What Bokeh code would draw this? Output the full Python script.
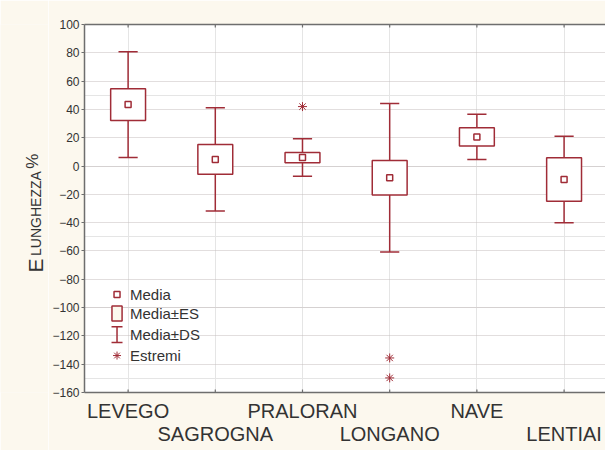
import numpy as np
from bokeh.plotting import figure
from bokeh.layouts import row
from bokeh.models import (ColumnDataSource, FixedTicker, LinearAxis, Label, Range1d, Grid)
from bokeh.core.properties import value
from bokeh.embed import file_html
from bokeh.resources import INLINE

# ---- data ----
categories = ["LEVEGO", "SAGROGNA", "PRALORAN", "LONGANO", "NAVE", "LENTIAI"]
mean = [43.4, 4.7, 6.0, -8.3, 20.6, -9.5]
se = [11.2, 10.5, 3.6, 12.2, 6.4, 15.4]
sd = [37.3, 36.5, 13.2, 52.5, 16.0, 30.6]
extreme_group = ["PRALORAN", "LONGANO", "LONGANO"]
extreme_value = [42.0, -135.6, -149.7]
y_ticks = list(range(-160, 101, 20))
legend_labels = ["Media", "Media\u00b1ES", "Media\u00b1DS", "Estremi"]
ytitle_parts = ["E", "LUNGHEZZA", "%"]

# ---- styles ----
RED = "#a02c37"
AXIS = "#6e6e6e"
TEXT = "#333333"
CREAM = "#fcf8ee"
FONT = "Liberation Sans"
BOX_HALF = 0.2
CAP_HALF = 0.11
Y_MIN, Y_MAX = -160, 100
TICK_LEN = 2.1  # data units (~3 px)

x = np.arange(len(categories), dtype=float)
m = np.array(mean)
s_e = np.array(se)
s_d = np.array(sd)

src = ColumnDataSource(dict(
    x=x, mean=m,
    box_l=x - BOX_HALF, box_r=x + BOX_HALF,
    box_b=m - s_e, box_t=m + s_e,
    lo=m - s_d, hi=m + s_d,
    cap_l=x - CAP_HALF, cap_r=x + CAP_HALF,
))
ex_src = ColumnDataSource(dict(
    x=[categories.index(g) for g in extreme_group],
    y=extreme_value,
))

W_TITLE, W_MAIN, H = 48, 557, 450
B_TOP, B_BOTTOM = 24, 58

p = figure(width=W_MAIN, height=H, output_backend="svg", toolbar_location=None,
           x_range=Range1d(-0.5, 5.475), y_range=Range1d(Y_MIN, Y_MAX),
           x_axis_location=None, y_axis_location=None,
           min_border_left=36, min_border_top=B_TOP, min_border_bottom=B_BOTTOM,
           min_border_right=0)
p.background_fill_color = "white"
p.border_fill_color = CREAM
p.outline_line_color = None

tick_y = FixedTicker(ticks=y_ticks)

left = LinearAxis(ticker=tick_y, major_label_text_font=FONT,
                  major_label_text_font_size="12px", major_label_text_color=TEXT,
                  major_label_standoff=2, major_tick_in=0, major_tick_out=3,
                  minor_tick_line_color=None, axis_line_color=AXIS,
                  axis_line_width=1.5, major_tick_line_color=AXIS)
p.add_layout(left, "left")

even = [i for i in range(len(categories)) if i % 2 == 0]
odd = [i for i in range(len(categories)) if i % 2 == 1]
row1 = LinearAxis(ticker=FixedTicker(ticks=[float(i) for i in even]),
                  major_label_overrides={float(i): categories[i] for i in even},
                  major_label_text_font=FONT, major_label_text_font_size="20px",
                  major_label_text_color=TEXT, major_label_standoff=7,
                  major_tick_in=0, major_tick_out=0,
                  major_tick_line_color=None, minor_tick_line_color=None,
                  axis_line_color=AXIS, axis_line_width=1.5)
row2 = LinearAxis(ticker=FixedTicker(ticks=[float(i) for i in odd]),
                  major_label_overrides={float(i): categories[i] for i in odd},
                  major_label_text_font=FONT, major_label_text_font_size="20px",
                  major_label_text_color=TEXT, major_label_standoff=-2,
                  major_tick_in=0, major_tick_out=0,
                  major_tick_line_color=None, minor_tick_line_color=None,
                  axis_line_color=None)
p.add_layout(row1, "below")
p.add_layout(row2, "below")

top = LinearAxis(ticker=FixedTicker(ticks=[]), major_tick_line_color=None,
                 minor_tick_line_color=None, axis_line_color=AXIS,
                 axis_line_width=1.5)
p.add_layout(top, "above")

p.add_layout(Grid(dimension=1, ticker=tick_y, grid_line_color="#c4bcbc",
                  grid_line_dash="1 1", grid_line_width=1))

# inward tick marks on the top and bottom edges
p.segment(x0=x, y0=[Y_MAX] * len(x), x1=x, y1=[Y_MAX - TICK_LEN] * len(x),
          line_color=AXIS, line_width=1.2)
p.segment(x0=x, y0=[Y_MIN] * len(x), x1=x, y1=[Y_MIN + TICK_LEN] * len(x),
          line_color=AXIS, line_width=1.2)

# box-whisker glyphs
p.segment(x0="x", y0="lo", x1="x", y1="hi", source=src, line_color=RED, line_width=1.5)
p.segment(x0="cap_l", y0="hi", x1="cap_r", y1="hi", source=src, line_color=RED, line_width=1.5)
p.segment(x0="cap_l", y0="lo", x1="cap_r", y1="lo", source=src, line_color=RED, line_width=1.5)
p.quad(left="box_l", right="box_r", bottom="box_b", top="box_t", source=src,
       fill_color="white", line_color=RED, line_width=1.5)
p.scatter(x="x", y="mean", source=src, marker="square", size=6,
          fill_color="white", line_color=RED, line_width=1.5)
p.scatter(x="x", y="y", source=ex_src, marker="asterisk", size=9,
          line_color=RED, line_width=1)

# ---- manual legend (layout positions in data space) ----
LG_X = -0.127
LG_TX = 0.022
LG_Y = [-90.8, -104.2, -119.1, -133.9]
p.scatter(x=[LG_X], y=[LG_Y[0]], marker="square", size=6, fill_color="white",
          line_color=RED, line_width=1.5)
p.quad(left=[LG_X - 0.058], right=[LG_X + 0.058], bottom=[LG_Y[1] - 5.3],
       top=[LG_Y[1] + 5.3], fill_color=CREAM, line_color=RED, line_width=1.5)
p.segment(x0=[LG_X], y0=[LG_Y[2] - 5.6], x1=[LG_X], y1=[LG_Y[2] + 5.6],
          line_color=RED, line_width=1.5)
p.segment(x0=[LG_X - 0.063, LG_X - 0.063], y0=[LG_Y[2] - 5.6, LG_Y[2] + 5.6],
          x1=[LG_X + 0.063, LG_X + 0.063], y1=[LG_Y[2] - 5.6, LG_Y[2] + 5.6],
          line_color=RED, line_width=1.5)
p.scatter(x=[LG_X], y=[LG_Y[3]], marker="asterisk", size=8, line_color=RED, line_width=1)
for lab, yy in zip(legend_labels, LG_Y):
    p.add_layout(Label(x=LG_TX, y=yy, text=lab, text_font=FONT, text_font_size="15px",
                       text_color=TEXT, text_baseline="middle", text_align="left"))

# ---- y-axis title panel (its frame lines up with the main frame) ----
q = figure(width=W_TITLE, height=H, output_backend="svg", toolbar_location=None,
           x_range=Range1d(0, W_TITLE), y_range=Range1d(Y_MIN, Y_MAX),
           x_axis_location=None, y_axis_location=None,
           min_border_left=0, min_border_right=0,
           min_border_top=B_TOP, min_border_bottom=B_BOTTOM)
q.background_fill_color = CREAM
q.border_fill_color = CREAM
q.outline_line_color = None
q.xgrid.visible = False
q.ygrid.visible = False
q.text(x=[35], y=[-75.3], text=[ytitle_parts[0]], angle=np.pi / 2, text_font=value(FONT),
       text_font_size="21px", text_color=TEXT, text_baseline="alphabetic",
       text_align="left")
q.text(x=[35], y=[-63.5], text=[ytitle_parts[1]], angle=np.pi / 2, text_font=value(FONT),
       text_font_size="14px", text_color=TEXT, text_baseline="alphabetic",
       text_align="left")
q.text(x=[32], y=[-2.0], text=[ytitle_parts[2]], angle=np.pi / 2, text_font=value(FONT),
       text_font_size="17px", text_color=TEXT, text_baseline="alphabetic",
       text_align="left")

layout = row(q, p, spacing=0)

open("out.html", "w").write(file_html(layout, INLINE))
